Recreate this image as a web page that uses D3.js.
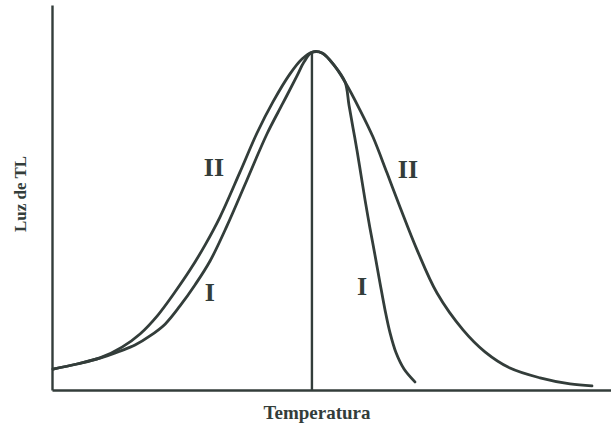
<!DOCTYPE html>
<html>
<head>
<meta charset="utf-8">
<script src="https://cdn.jsdelivr.net/npm/d3@7"></script>
<style>
  body { margin: 0; background: #fff; }
  svg { display: block; }
  .lbl { font-family: "Liberation Serif", "DejaVu Serif", serif; font-weight: bold; fill: #333d3a; }
</style>
</head>
<body>
<div id="container"></div>
<script>
const width = 611;
const height = 429;
const ink = '#333d3a';

// curve II (broad peak)
const tempII = [0.7, 17.9, 34.3, 50.1, 63, 75.8, 88, 98.7, 109.5, 120.2, 134.5, 146.7, 158.1, 170.3, 178.9, 186, 193.2, 201.8, 209.7, 220.4, 229.7, 239.7, 249, 261.2, 275.5, 294.1, 309.8, 327.7, 349.2, 370.7, 386.4];
const lumII = [6.2, 7.7, 9.5, 12.7, 16.6, 22.2, 29, 35.5, 42.9, 51.2, 64.5, 76.1, 85.3, 93.6, 98, 100, 99.8, 96.2, 91.2, 82.9, 74.9, 64.3, 54.2, 41.5, 28.7, 17.8, 11.3, 6.5, 3.6, 1.8, 1.2];

// curve I (narrow peak)
const tempI = [0.7, 17.9, 39.4, 48.7, 59.4, 70.1, 80.9, 91.6, 102.3, 113.1, 125.2, 139.5, 153.8, 165.3, 175.3, 180.3, 186, 193.2, 201.8, 209.7, 212.5, 215.4, 218.2, 221.1, 224, 227.5, 231.1, 234.7, 238.3, 241.9, 246.2, 251.9, 259.7];
const lumI = [6.2, 7.7, 10.1, 11.5, 13.3, 16, 19.5, 24.9, 31.1, 38.2, 48.6, 62.2, 75.8, 85, 93, 97.1, 100, 99.8, 96.2, 91.2, 84.4, 77.6, 71.1, 63.7, 56.3, 48, 40, 31.7, 23.7, 16.9, 11, 6.2, 2.4];

const peakTemp = 186;

const labels = [
    { text: 'II', t: 115.9, l: 66 },
    { text: 'I', t: 113, l: 29 },
    { text: 'II', t: 254.7, l: 65.4 },
    { text: 'I', t: 221.8, l: 30.5 }
];

const x = d3.scaleLinear().domain([0, 400]).range([52, 611]);
const y = d3.scaleLinear().domain([0, 114]).range([390, 5]);

let svg = d3.select('#container').append('svg')
    .attr('width', width)
    .attr('height', height);

svg.append('rect').attr('width', width).attr('height', height).attr('fill', '#fff');

svg.append('g')
    .attr('transform', 'translate(0,' + y(0) + ')')
    .call(d3.axisBottom(x).tickValues([]).tickSizeOuter(0));
svg.append('g')
    .attr('transform', 'translate(' + x(0) + ',0)')
    .call(d3.axisLeft(y).tickValues([]).tickSizeOuter(0));
svg.selectAll('.domain').attr('stroke', ink).attr('stroke-width', 2.4);

let line = d3.line()
    .x(d => x(d[0]))
    .y(d => y(d[1]))
    .curve(d3.curveCatmullRom.alpha(0.5));

let series = [d3.zip(tempII, lumII), d3.zip(tempI, lumI)];

svg.append('g')
    .selectAll('path')
    .data(series)
    .join('path')
    .attr('d', line)
    .attr('fill', 'none')
    .attr('stroke', ink)
    .attr('stroke-width', 2.8)
    .attr('stroke-linecap', 'round');

svg.append('line')
    .attr('x1', x(peakTemp)).attr('x2', x(peakTemp))
    .attr('y1', y(100)).attr('y2', y(0))
    .attr('stroke', ink)
    .attr('stroke-width', 2.4);

svg.append('g')
    .selectAll('text')
    .data(labels)
    .join('text')
    .attr('class', 'lbl')
    .attr('x', d => x(d.t))
    .attr('y', d => y(d.l))
    .attr('text-anchor', 'middle')
    .attr('dominant-baseline', 'central')
    .attr('font-size', 26)
    .text(d => d.text);

svg.append('text')
    .attr('class', 'lbl')
    .attr('x', 317)
    .attr('y', 419)
    .attr('text-anchor', 'middle')
    .attr('font-size', 19)
    .text('Temperatura');

svg.append('text')
    .attr('class', 'lbl')
    .attr('transform', 'translate(26,194) rotate(-90)')
    .attr('text-anchor', 'middle')
    .attr('font-size', 17)
    .text('Luz de TL');
</script>
</body>
</html>
